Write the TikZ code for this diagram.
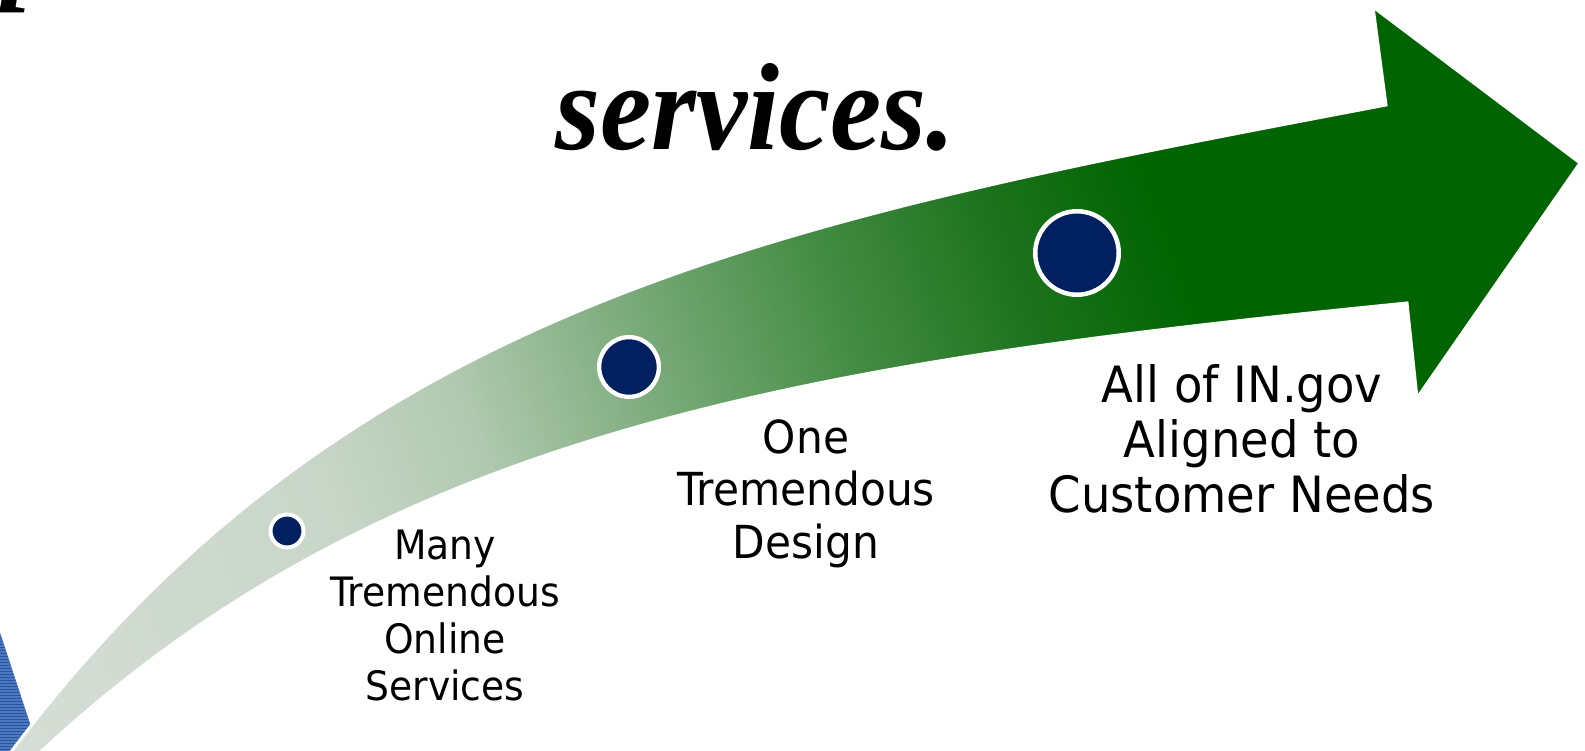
\documentclass[tikz,border=0pt]{standalone}
\usepackage{fontspec}
\newfontfamily\labelfont[FakeStretch=0.93]{DejaVu Sans}
\newfontfamily\titlefont[FakeStretch=0.93]{Liberation Serif}
\definecolor{navy}{RGB}{0,32,96}
\definecolor{bluebg}{RGB}{40,85,160}
\definecolor{bluestripe}{RGB}{75,120,190}
\definecolor{g0}{RGB}{214,222,214}
\definecolor{g1}{RGB}{200,214,200}
\definecolor{g2}{RGB}{175,200,175}
\definecolor{g3}{RGB}{122,170,122}
\definecolor{g4}{RGB}{68,140,68}
\definecolor{g5}{RGB}{30,115,30}
\definecolor{g6}{RGB}{0,100,0}
\pgfdeclarehorizontalshading{arrowgrad}{100bp}{color(0bp)=(g0); color(18bp)=(g0); color(32.5bp)=(g1); color(38.5bp)=(g2); color(45.3bp)=(g3); color(52.5bp)=(g4); color(58.9bp)=(g5); color(65bp)=(g6); color(100bp)=(g6)}
\begin{document}
\begin{tikzpicture}[x=1pt,y=-1pt,
  dot/.style={circle, fill=navy, draw=white, inner sep=0pt},
  lab/.style={align=center, inner sep=0pt, anchor=base, text=black},
  ttl/.style={anchor=base west, inner sep=0pt, font=\titlefont\bfseries\itshape\fontsize{124}{124}\selectfont}]
\useasboundingbox (0,0) rectangle (1585,751);
\fill[white] (0,0) rectangle (1585,751);
% blue striped background shape
\begin{scope}
  \clip (-5,633) -- (0,633) -- (42,760) -- (-5,760) -- cycle;
  \fill[bluebg] (-5,620) rectangle (50,760);
  \foreach \yy in {634,637,...,760} \draw[bluestripe, line width=1.1pt] (-5,\yy) -- (50,\yy);
\end{scope}
% arrow
\shadedraw[shading=arrowgrad, shading angle=20, draw=white, line width=3pt]
  (5,760) .. controls (345,301) and (786,219) .. (1386,105)
  -- (1373,7) -- (1580,163) -- (1417,398) -- (1407,303)
  .. controls (807,363) and (380,429.5) .. (30,762)
  -- cycle;
% milestones
\node[dot, line width=4pt, minimum size=33pt] (c1) at (287,531) {};
\node[dot, line width=4.3pt, minimum size=59.7pt] (c2) at (629,367) {};
\node[dot, line width=4.5pt, minimum size=83.5pt] (c3) at (1077,253) {};
% labels (base anchor = baseline of the last line)
\node[lab, font=\labelfont\fontsize{40.5}{47}\selectfont] (l1) at (445,700) {Many\\Tremendous\\Online\\Services};
\node[lab, font=\labelfont\fontsize{45.5}{52.5}\selectfont] (l2) at (806,558) {One\\Tremendous\\Design};
\node[lab, font=\labelfont\fontsize{50}{55}\selectfont] (l3) at (1242,512) {All of IN.gov\\Aligned to\\Customer Needs};
% title fragments
\node[ttl] (title) at (555,150) {services.};
\node[ttl] (ptail) at (2,-13) {p};
\end{tikzpicture}
\end{document}
